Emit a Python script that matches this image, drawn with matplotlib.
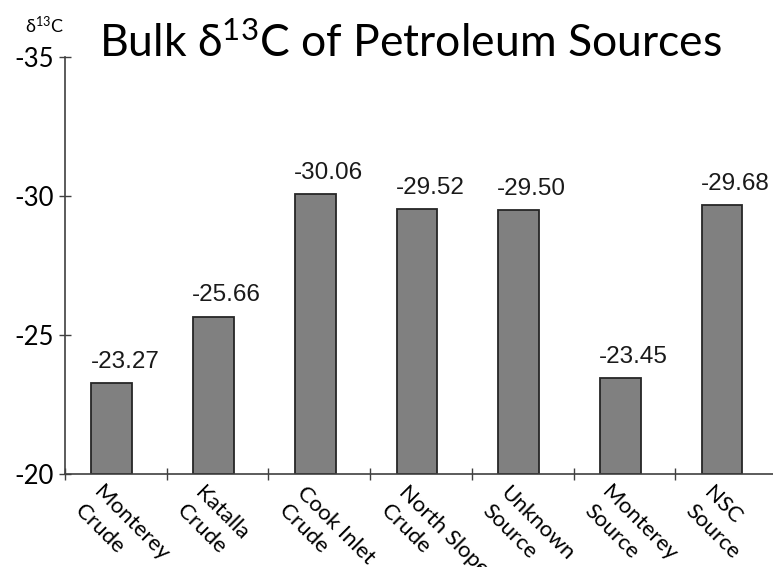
import matplotlib.pyplot as plt
import matplotlib.transforms as mtransforms
import numpy as np

categories = ["Monterey\nCrude", "Katalla\nCrude", "Cook Inlet\nCrude", "North Slope\nCrude",
              "Unknown\nSource", "Monterey\nSource", "NSC\nSource"]
values = [-23.27, -25.66, -30.06, -29.52, -29.50, -23.45, -29.68]
labels = ["-23.27", "-25.66", "-30.06", "-29.52", "-29.50", "-23.45", "-29.68"]
yticks = [-35, -30, -25, -20]

base = -20
cal = ["Lato", "DejaVu Sans"]
ari = ["Liberation Sans", "DejaVu Sans"]

plt.rcParams["mathtext.fontset"] = "custom"
plt.rcParams["mathtext.rm"] = "Lato"
plt.rcParams["mathtext.it"] = "Lato"
plt.rcParams["mathtext.default"] = "regular"

fig = plt.figure(figsize=(7.73, 5.67), dpi=100)
ax = fig.add_axes([65 / 773, 93 / 567, 712 / 773, 417 / 567])

x = np.arange(len(values)) + 0.5
ax.bar(x - 0.04, np.array(values) - base, bottom=base, width=0.40,
       color="#808080", edgecolor="#262626", linewidth=1.3)

for xi, v, lab in zip(x, values, labels):
    ax.annotate(lab, (xi + 0.09, v), xytext=(0, 11), textcoords="offset points",
                ha="center", va="baseline", fontsize=17.5, family=ari, color="#1a1a1a")

ax.set_xlim(0, len(values))
ax.set_ylim(-20, -35)
ax.set_yticks(yticks)
ax.set_yticklabels([str(t) for t in yticks], fontsize=18.5, family=cal)
ax.tick_params(axis="y", direction="inout", length=8, width=1, color="#404040", pad=4)

ax.set_xticks(np.arange(len(values) + 1), minor=True)
ax.set_xticks(x)
ax.set_xticklabels(categories, rotation=-45, ha="left", va="top",
                   rotation_mode="anchor", fontsize=16, family=cal, linespacing=1.35)
ax.tick_params(axis="x", which="major", length=0, pad=6)
ax.tick_params(axis="x", which="minor", direction="inout", length=9, width=1, color="#404040")
shift = mtransforms.ScaledTranslation(-0.12, 0, fig.dpi_scale_trans)
for t in ax.get_xticklabels():
    t.set_transform(t.get_transform() + shift)

for s in ["top", "right"]:
    ax.spines[s].set_visible(False)
for s in ["left", "bottom"]:
    ax.spines[s].set_color("#404040")
    ax.spines[s].set_linewidth(1.2)

fig.text(410 / 773, 1 - 57 / 567, r"Bulk δ$^{13}$C of Petroleum Sources", ha="center",
         va="baseline", fontsize=32, family=cal)
fig.text(44 / 773, 1 - 33 / 567, r"δ$^{13}$C", ha="center", va="baseline", fontsize=13, family=cal)

fig.savefig("out.png", dpi=100)
